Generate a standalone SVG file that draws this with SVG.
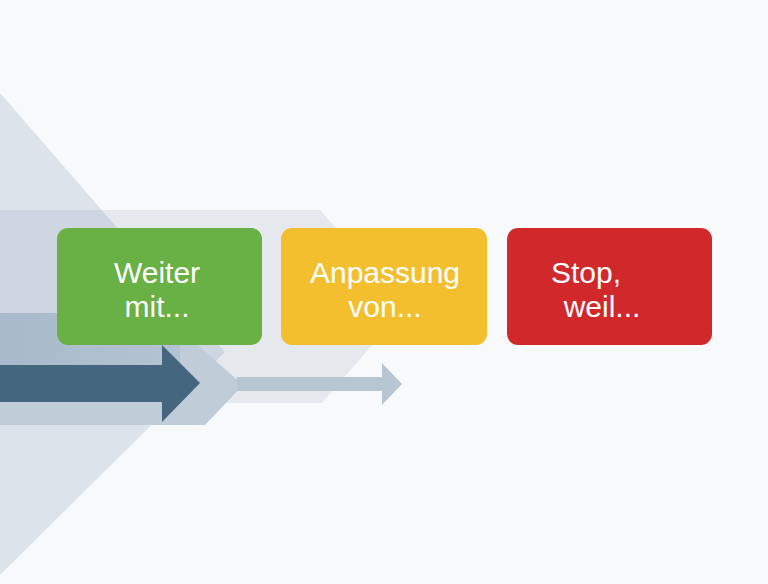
<svg xmlns="http://www.w3.org/2000/svg" width="768" height="584" viewBox="0 0 768 584">
  <defs>
    <style>
      .box-label { font-family: "Liberation Sans", Arial, sans-serif; font-size: 30px; fill: #ffffff; text-anchor: middle; }
    </style>
    <linearGradient id="bandC" x1="0" y1="0" x2="1" y2="0">
      <stop offset="0" stop-color="#a8bacb"/>
      <stop offset="1" stop-color="#b4c3d1"/>
    </linearGradient>
  </defs>

  <rect x="0" y="0" width="768" height="584" fill="#f8f9fb"/>

  <g id="background">
    <polygon points="0,93 225,352 0,575" fill="#dce3eb"/>
    <polygon points="0,210 320,210 406,306 322,403 0,403" fill="#8fa3b8" fill-opacity="0.18"/>
    <polygon points="0,340 192,340 243,385 205,425 0,425" fill="#c0cdd9"/>
    <rect x="0" y="313" width="180" height="52" fill="url(#bandC)"/>
  </g>

  <g id="connectors">
    <polygon points="0,365 162,365 162,345 200,383 162,422 162,402 0,402" fill="#45667f"/>
    <polygon points="237,377 382,377 382,363 402,384 382,405 382,391 237,391" fill="#b8c6d4"/>
  </g>

  <g id="node-weiter">
    <rect x="57" y="228" width="205" height="117" rx="11" fill="#69b045"/>
    <text class="box-label" x="157" y="283">Weiter</text>
    <text class="box-label" x="157" y="317">mit...</text>
  </g>

  <g id="node-anpassung">
    <rect x="281" y="228" width="206" height="117" rx="11" fill="#f4bf2f"/>
    <text class="box-label" x="385" y="283">Anpassung</text>
    <text class="box-label" x="385" y="317">von...</text>
  </g>

  <g id="node-stop">
    <rect x="507" y="228" width="205" height="117" rx="11" fill="#d1282c"/>
    <text class="box-label" x="586" y="283">Stop,</text>
    <text class="box-label" x="602" y="317">weil...</text>
  </g>
</svg>
